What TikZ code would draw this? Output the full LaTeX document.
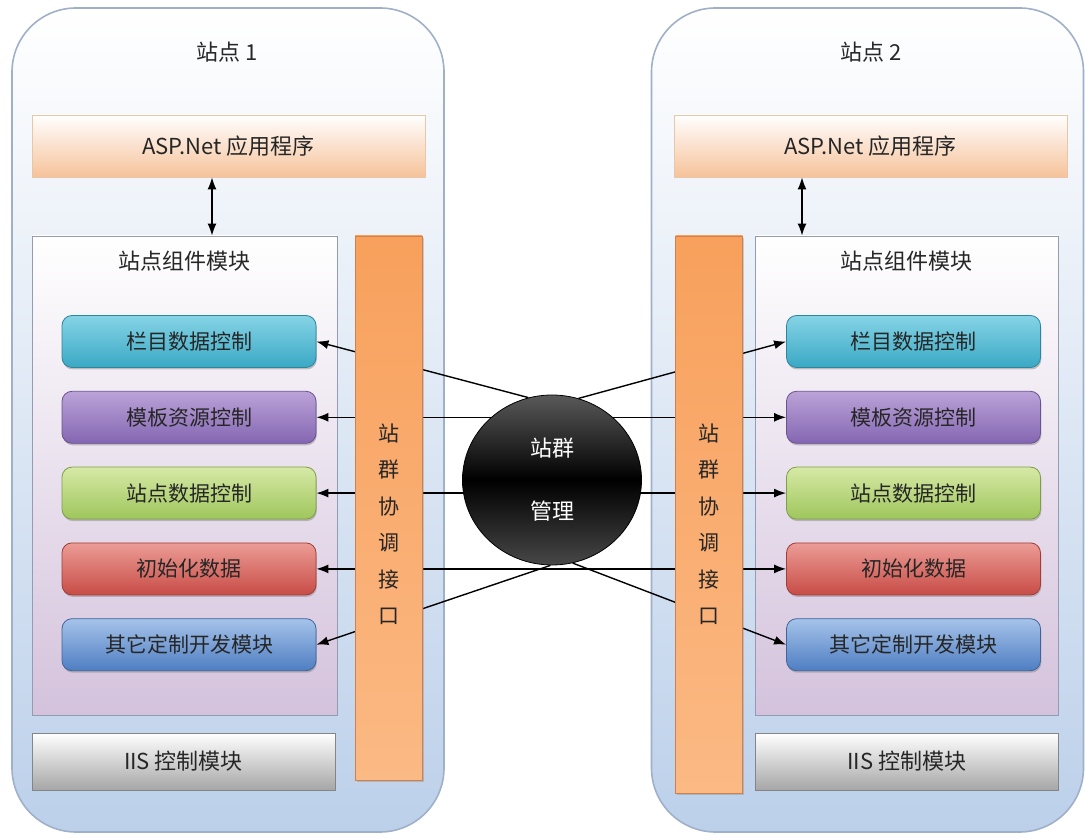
\documentclass[tikz,border=0pt]{standalone}
\usepackage{fontspec}
\setmainfont{Noto Sans CJK SC}
\usepackage{xcolor}
\usepackage{tikz}
\usetikzlibrary{arrows.meta, calc, positioning, shapes.geometric, shadows}

\definecolor{sitefill}{HTML}{BCD0EA}
\definecolor{siteedge}{HTML}{9FB0C8}
\definecolor{compfill}{HTML}{D4C2DC}
\definecolor{compedge}{HTML}{939CB2}
\definecolor{aspfill}{HTML}{F6C29A}
\definecolor{aspedge}{HTML}{E8C6A6}
\definecolor{iisfill}{HTML}{A6A6A6}
\definecolor{barfill}{HTML}{F8A05C}
\definecolor{barlow}{HTML}{FBB984}
\definecolor{baredge}{HTML}{D08048}
\definecolor{cyantop}{HTML}{86D4E6}
\definecolor{cyanlow}{HTML}{3AA8C4}
\definecolor{purptop}{HTML}{BBA3D8}
\definecolor{purplow}{HTML}{8466B2}
\definecolor{greentop}{HTML}{D6E9A6}
\definecolor{greenlow}{HTML}{9FC65C}
\definecolor{redtop}{HTML}{EC9C96}
\definecolor{redlow}{HTML}{C84C46}
\definecolor{bluetop}{HTML}{A6C3EA}
\definecolor{bluelow}{HTML}{4E7EC2}

\pgfdeclarelayer{bg}
\pgfdeclarelayer{wires}
\pgfsetlayers{bg,wires,main}

\begin{document}
\begin{tikzpicture}[
    x=0.5pt, y=-0.5pt,
    node distance=11.5pt and 10pt,
    every node/.style={font=\fontsize{10.5}{12}\selectfont, text=black!85},
    site/.style={draw=siteedge, line width=0.8pt, rounded corners=32pt, minimum width=216pt, minimum height=412pt, top color=white, bottom color=sitefill},
    aspbox/.style={draw=aspedge, minimum width=196.5pt, minimum height=31pt, top color=white, bottom color=aspfill, font=\fontsize{11}{13}\selectfont},
    compbox/.style={draw=compedge, minimum height=239.5pt, top color=white, bottom color=compfill},
    iisbox/.style={draw=iisfill!80!black, minimum width=151.5pt, minimum height=28.5pt, top color=white, bottom color=iisfill, font=\fontsize{11}{13}\selectfont},
    bar/.style={draw=baredge, minimum width=33.5pt, top color=barfill, bottom color=barlow, drop shadow={shadow xshift=0.8pt, shadow yshift=-0.8pt, opacity=0.35}},
    bartext/.style={align=center, font=\fontsize{10.5}{18.25}\selectfont},
    module/.style={rounded corners=5pt, minimum width=127pt, minimum height=26pt, drop shadow={shadow xshift=0.4pt, shadow yshift=-1pt, opacity=0.45}},
    cyanmod/.style={module, draw=cyanlow!80!black, top color=cyantop, bottom color=cyanlow},
    purpmod/.style={module, draw=purplow!80!black, top color=purptop, bottom color=purplow},
    greenmod/.style={module, draw=greenlow!80!black, top color=greentop, bottom color=greenlow},
    redmod/.style={module, draw=redlow!80!black, top color=redtop, bottom color=redlow},
    bluemod/.style={module, draw=bluelow!80!black, top color=bluetop, bottom color=bluelow},
    arr/.style={-{Latex[length=6pt, width=4.5pt]}, line width=0.7pt, black},
    dbl/.style={{Latex[length=6pt, width=4.5pt]}-{Latex[length=6pt, width=4.5pt]}, line width=0.7pt, black},
  ]
  \useasboundingbox (0,0) rectangle (1085,838);

  % --- site frames
  \begin{pgfonlayer}{bg}
  \node[site] (site1) at (228,420) {};
  \node[site] (site2) at (867.5,420) {};
  \node[aspbox] (asp1) at (228.5,146) {ASP.Net 应用程序};
  \node[aspbox] (asp2) at (870.5,146) {ASP.Net 应用程序};
  \node[compbox, minimum width=152.5pt] (comp1) at (184.5,475.5) {};
  \node[compbox, minimum width=151.5pt] (comp2) at (906.5,475.5) {};
  \node[iisbox] (iis1) at (183.5,761.5) {IIS 控制模块};
  \node[iisbox] (iis2) at (907,761.5) {IIS 控制模块};
  \end{pgfonlayer}
  \node[font=\fontsize{11}{13}\selectfont] (title1) at (227,52) {站点 1};
  \node[font=\fontsize{11}{13}\selectfont] (title2) at (871,52) {站点 2};
  \node[below=4pt of comp1.north, font=\fontsize{11}{13}\selectfont] (ctitle1) {站点组件模块};
  \node[below=4pt of comp2.north, font=\fontsize{11}{13}\selectfont] (ctitle2) {站点组件模块};

  % --- modules, site 1
  \node[cyanmod] (m1l) at (189,341.5) {栏目数据控制};
  \node[purpmod, below=of m1l] (m2l) {模板资源控制};
  \node[greenmod, below=of m2l] (m3l) {站点数据控制};
  \node[redmod, below=of m3l] (m4l) {初始化数据};
  \node[bluemod, below=of m4l] (m5l) {其它定制开发模块};
  % --- modules, site 2
  \node[cyanmod] (m1r) at (913.5,341.5) {栏目数据控制};
  \node[purpmod, below=of m1r] (m2r) {模板资源控制};
  \node[greenmod, below=of m2r] (m3r) {站点数据控制};
  \node[redmod, below=of m3r] (m4r) {初始化数据};
  \node[bluemod, below=of m4r] (m5r) {其它定制开发模块};

  % --- hub
  \node[ellipse, draw=black, minimum width=89.5pt, minimum height=85pt, top color=black!65, bottom color=black!72, middle color=black, text=white, align=center, font=\fontsize{11}{31.5}\selectfont] (hub) at (552,480) {站群\\管理};

  % --- wires
  \begin{pgfonlayer}{wires}
  \draw[arr] (hub.106) -- (m1l.east);
  \draw[arr] (hub.72)  -- (m1r.west);
  \draw[dbl] (m2l.east) -- (m2r.west);
  \draw[dbl] (m3l.east) -- (m3r.west);
  \draw[dbl] (m4l.east) -- (m4r.west);
  \draw[arr] (hub.-91) -- (m5l.east);
  \draw[arr] (hub.-76) -- (m5r.west);
  \end{pgfonlayer}
  \draw[dbl] ([xshift=-8.25pt]asp1.south) -- ([xshift=-8.25pt]asp1.south |- comp1.north);
  \draw[dbl] ([xshift=-34.25pt]asp2.south) -- ([xshift=-34.25pt]asp2.south |- comp2.north);

  % --- coordination bars
  \node[bar, minimum height=272pt] (bar1) at (388.5,508) {};
  \node[bar, minimum height=278.5pt] (bar2) at (709,514.5) {};
  \node[bartext] (lbl1) at (388.5,524) {站\\群\\协\\调\\接\\口};
  \node[bartext] (lbl2) at (708.5,524) {站\\群\\协\\调\\接\\口};
\end{tikzpicture}
\end{document}
